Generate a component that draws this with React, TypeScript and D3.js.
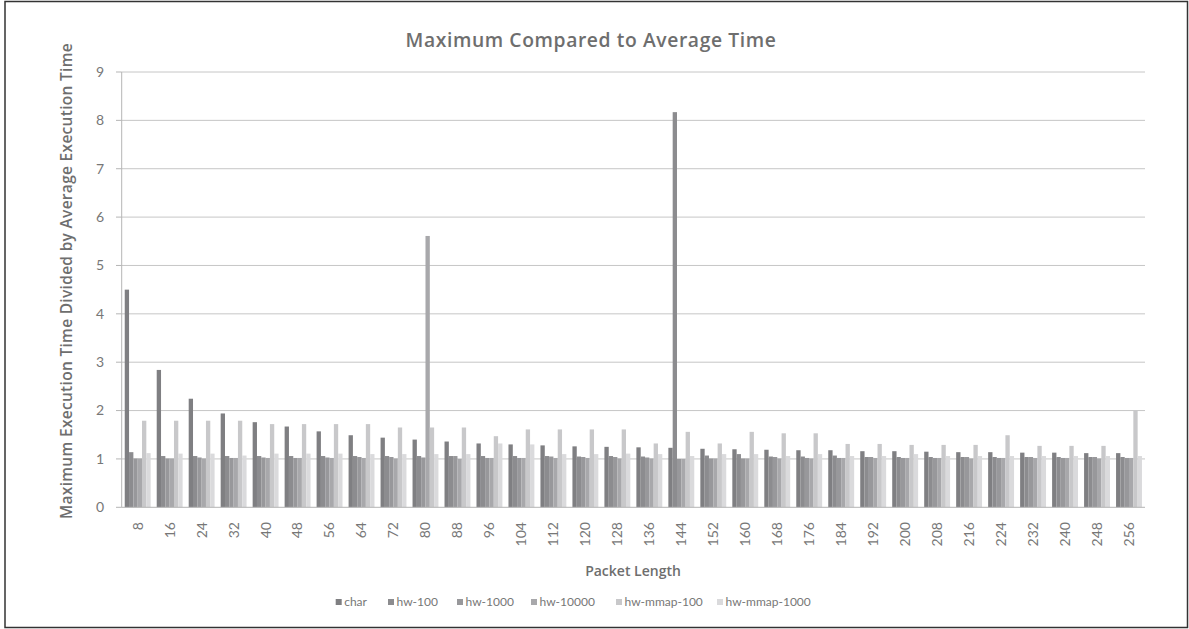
import React from "react";
import * as d3 from "d3";

const categories = [8, 16, 24, 32, 40, 48, 56, 64, 72, 80, 88, 96, 104, 112, 120, 128, 136, 144, 152, 160, 168, 176, 184, 192, 200, 208, 216, 224, 232, 240, 248, 256];
const seriesNames = ["char", "hw-100", "hw-1000", "hw-10000", "hw-mmap-100", "hw-mmap-1000"];
const charVals = [4.50, 2.84, 2.245, 1.94, 1.76, 1.67, 1.57, 1.49, 1.44, 1.40, 1.36, 1.32, 1.30, 1.28, 1.26, 1.25, 1.24, 1.23, 1.21, 1.20, 1.19, 1.18, 1.18, 1.16, 1.16, 1.15, 1.14, 1.14, 1.13, 1.13, 1.12, 1.12];
const hw100 = [1.14, 1.06, 1.06, 1.06, 1.06, 1.06, 1.06, 1.06, 1.06, 1.06, 1.06, 1.06, 1.06, 1.06, 1.05, 1.06, 1.05, 8.17, 1.07, 1.10, 1.05, 1.05, 1.07, 1.04, 1.04, 1.04, 1.04, 1.04, 1.04, 1.04, 1.04, 1.04];
const hw1000 = [1.01, 1.01, 1.03, 1.02, 1.03, 1.02, 1.03, 1.04, 1.04, 1.03, 1.06, 1.02, 1.02, 1.05, 1.04, 1.04, 1.03, 1.00, 1.01, 1.01, 1.04, 1.02, 1.02, 1.04, 1.02, 1.02, 1.04, 1.02, 1.04, 1.02, 1.04, 1.02];
const hw10000 = [1.01, 1.01, 1.01, 1.02, 1.02, 1.02, 1.02, 1.02, 1.01, 5.61, 1.00, 1.02, 1.02, 1.02, 1.02, 1.01, 1.01, 1.00, 1.01, 1.01, 1.01, 1.01, 1.02, 1.02, 1.02, 1.02, 1.01, 1.02, 1.02, 1.02, 1.01, 1.02];
const mmap100 = [1.79, 1.79, 1.79, 1.79, 1.72, 1.72, 1.72, 1.72, 1.65, 1.65, 1.65, 1.47, 1.61, 1.61, 1.61, 1.61, 1.32, 1.56, 1.32, 1.56, 1.53, 1.53, 1.31, 1.31, 1.29, 1.29, 1.29, 1.49, 1.27, 1.27, 1.27, 2.00];
const mmap1000 = [1.12, 1.11, 1.11, 1.07, 1.11, 1.11, 1.11, 1.10, 1.10, 1.10, 1.10, 1.32, 1.30, 1.10, 1.10, 1.11, 1.10, 1.06, 1.10, 1.10, 1.06, 1.10, 1.06, 1.06, 1.10, 1.06, 1.06, 1.06, 1.06, 1.06, 1.06, 1.06];
const yTicks = [0, 1, 2, 3, 4, 5, 6, 7, 8, 9];
const colors = ["#7f7f82", "#8c8c8f", "#98989b", "#a8a8ab", "#c8c8ca", "#dadadc"];

const seriesValues = [charVals, hw100, hw1000, hw10000, mmap100, mmap1000];

const W = 1189;
const H = 629;
const plotLeft = 121.7;
const plotRight = 1145;
const plotTop = 72;
const plotBottom = 507.3;
const FONT = "Lato, 'Open Sans', sans-serif";
const TFONT = "'Open Sans', Lato, sans-serif";

export default function App() {
  const x = d3.scaleBand<number>().domain(categories).range([plotLeft, plotRight]).paddingInner(0.19).paddingOuter(0.095);
  const xs = d3.scaleBand<string>().domain(seriesNames).range([0, x.bandwidth()]);
  const y = d3.scaleLinear().domain([0, 9]).range([plotBottom, plotTop]);

  const legendX = [335.7, 388, 457, 531, 616, 717];

  return (
    <svg width={W} height={H} style={{ position: "absolute", left: 0, top: 0, background: "#fff" }} fontFamily={FONT}>
      <rect x={5} y={1.5} width={1182.5} height={626} fill="#fff" stroke="#333" strokeWidth={1.5} />
      <text x={591} y={47} textAnchor="middle" fontFamily={TFONT} fontSize={19.3} fontWeight={600} letterSpacing={0.6} fill="#6e6e6e">
        Maximum Compared to Average Time
      </text>
      {yTicks.map((t) => (
        <g key={t}>
          {t > 0 && <line x1={plotLeft} x2={plotRight} y1={y(t)} y2={y(t)} stroke="#c6c6c6" strokeWidth={1} />}
          <line x1={116} x2={plotLeft} y1={y(t)} y2={y(t)} stroke="#b5b5b5" strokeWidth={1} />
          <text x={104} y={y(t)} dy="0.35em" textAnchor="end" fontSize={14} fill="#777">
            {t}
          </text>
        </g>
      ))}
      {categories.map((c, i) => (
        <g key={c}>
          {seriesNames.map((s, j) => (
            <rect
              key={s}
              x={(x(c) as number) + (xs(s) as number)}
              y={y(seriesValues[j][i])}
              width={xs.bandwidth()}
              height={plotBottom - y(seriesValues[j][i])}
              fill={colors[j]}
            />
          ))}
          <text
            transform={`translate(${(x(c) as number) + x.bandwidth() / 2},${522}) rotate(-90)`}
            dy="0.35em"
            textAnchor="end"
            fontSize={14}
            fill="#777"
          >
            {c}
          </text>
        </g>
      ))}
      <line x1={plotLeft} x2={plotRight} y1={plotBottom} y2={plotBottom} stroke="#b5b5b5" strokeWidth={1} />
      <line x1={plotLeft} x2={plotLeft} y1={plotTop} y2={plotBottom} stroke="#b5b5b5" strokeWidth={1} />
      <text x={633} y={576} textAnchor="middle" fontFamily={TFONT} fontSize={14} fontWeight={600} fill="#6e6e6e">
        Packet Length
      </text>
      <text transform={`translate(67,281) rotate(-90)`} dy="0.35em" textAnchor="middle" fontFamily={TFONT} fontSize={15.5} fontWeight={600} letterSpacing={0.3} fill="#6e6e6e">
        Maximum Execution Time Divided by Average Execution Time
      </text>
      {seriesNames.map((s, j) => (
        <g key={s}>
          <rect x={legendX[j]} y={599} width={6} height={6} fill={colors[j]} />
          <text x={legendX[j] + 8.5} y={602} dy="0.35em" fontSize={12} fill="#777">
            {s}
          </text>
        </g>
      ))}
    </svg>
  );
}
